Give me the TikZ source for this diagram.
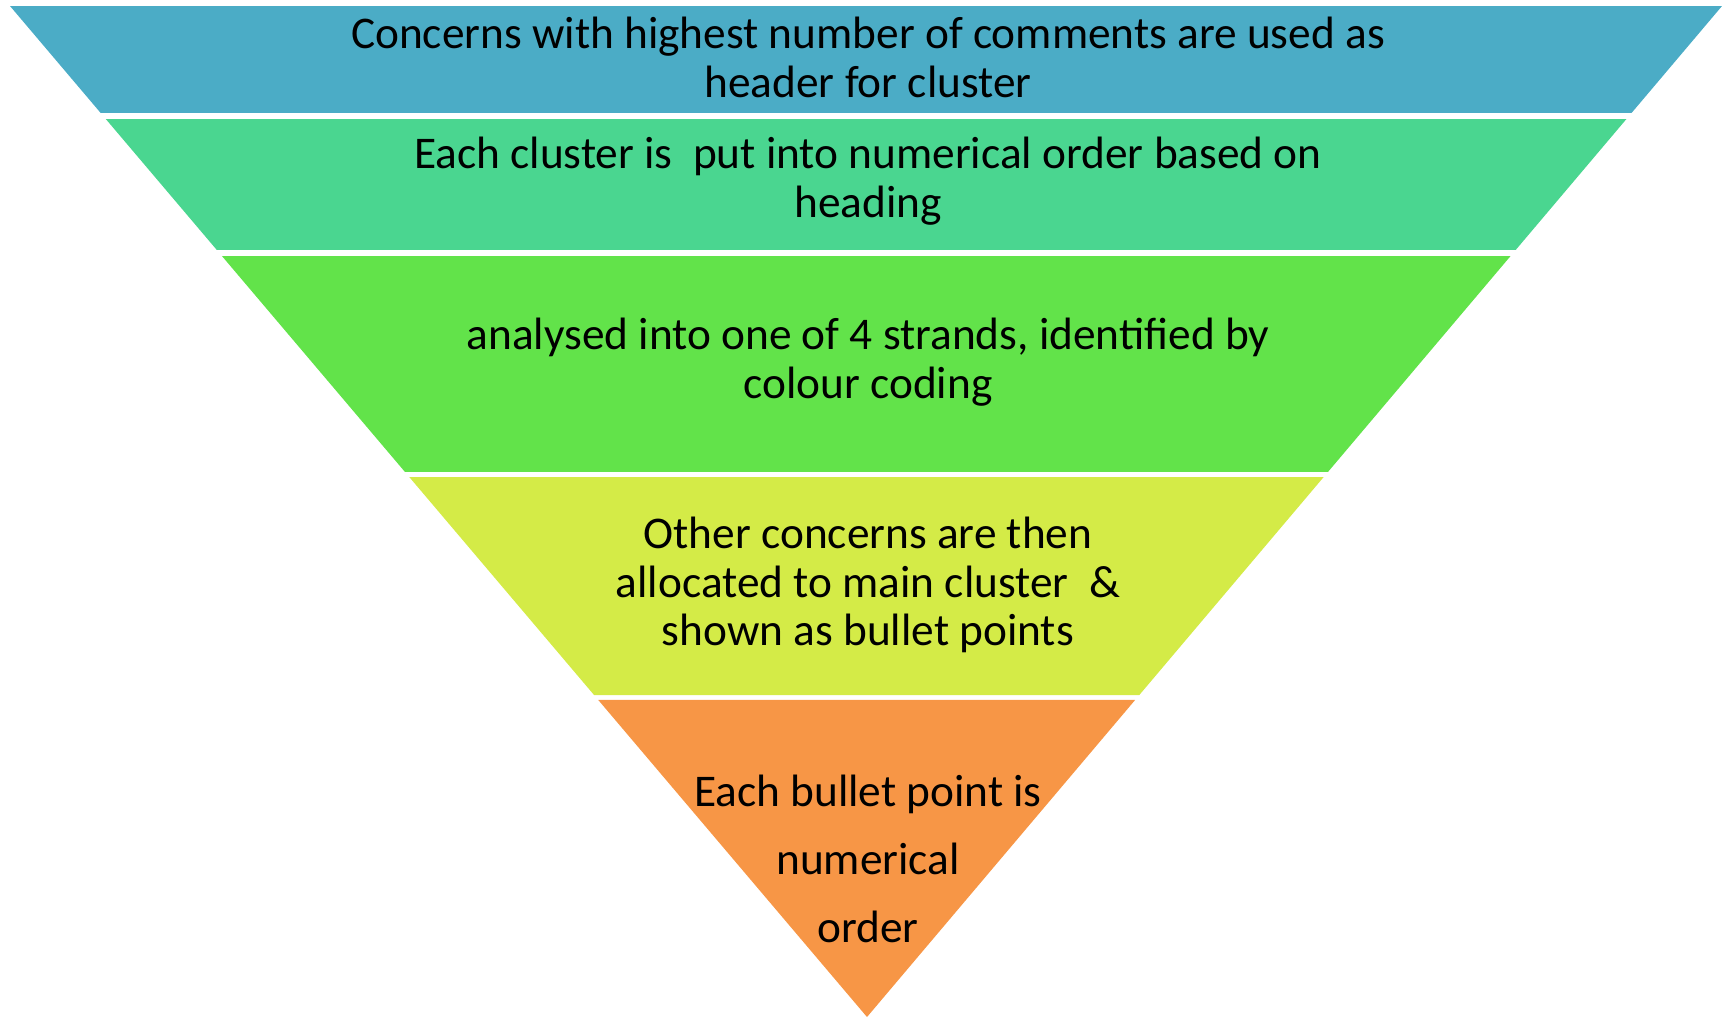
\documentclass[tikz,border=0pt]{standalone}
\usepackage{fontspec}
\setmainfont{Carlito}
\usetikzlibrary{calc}
\definecolor{cone}{HTML}{4BACC6}
\definecolor{ctwo}{HTML}{4AD690}
\definecolor{cthree}{HTML}{62E34A}
\definecolor{cfour}{HTML}{D4EB47}
\definecolor{cfive}{HTML}{F79646}
\newcommand{\pyrlayer}[3]{\fill[#3] ($(TL)!#1!(A)$) -- ($(TR)!#1!(A)$) -- ($(TR)!#2!(A)$) -- ($(TL)!#2!(A)$) -- cycle;}
\tikzset{lbl/.style={align=center,text=black,inner sep=0pt,font=\fontsize{12.9}{13.9}\selectfont}}
\begin{document}
\begin{tikzpicture}[x=0.1mm,y=-0.1mm]
\useasboundingbox (0,0) rectangle (1722,1018);
\coordinate (TL) at (10,6);
\coordinate (TR) at (1722,6);
\coordinate (A) at (867,1017);
\pyrlayer{0}{0.1058}{cone}
\pyrlayer{0.1118}{0.2413}{ctwo}
\pyrlayer{0.2473}{0.4609}{cthree}
\pyrlayer{0.4659}{0.6815}{cfour}
\fill[cfive] ($(TL)!0.6864!(A)$) -- ($(TR)!0.6864!(A)$) -- (A) -- cycle;
\node[lbl] (t1) at (868,57) {Concerns with highest number of comments are used as\\header for cluster};
\node[lbl] (t2) at (868,181) {Each cluster is~ put into numerical order based on\\heading};
\node[lbl] (t3) at (868,362) {analysed into one of 4 strands, identified by\\colour coding};
\node[lbl] (t4) at (868,585) {Other concerns are then\\allocated to main cluster~ \&\\shown as bullet points};
\node[lbl,font=\fontsize{12.9}{19.3}\selectfont] (t5) at (868,859) {Each bullet point is\\numerical\\order};
\end{tikzpicture}
\end{document}
